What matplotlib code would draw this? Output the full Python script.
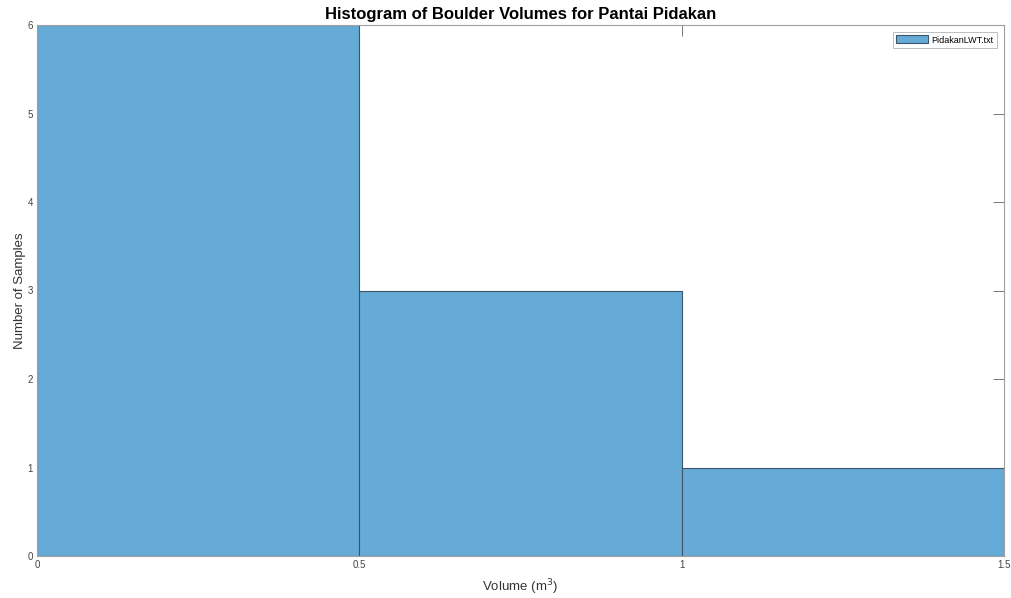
import matplotlib
matplotlib.use("Agg")
import matplotlib.pyplot as plt
import numpy as np

bin_edges = [0.0, 0.5, 1.0, 1.5]
counts = [6, 3, 1]
x_ticks = [0, 0.5, 1, 1.5]
x_tick_labels = ["0", "0.5", "1", "1.5"]
y_ticks = [0, 1, 2, 3, 4, 5, 6]

plt.rcParams['font.family'] = ['Liberation Sans', 'DejaVu Sans']

fig = plt.figure(figsize=(10.11, 5.98), dpi=100)
ax = fig.add_axes([37/1011, 42/598, (1004-37)/1011, (556-25)/598])

edges = np.array(bin_edges)
ax.bar(edges[:-1], counts, width=np.diff(edges), align='edge',
       color='#66aad7', edgecolor='#3d5566', linewidth=0.8,
       label='PidakanLWT.txt', zorder=2)

ax.set_xlim(0, 1.5)
ax.set_ylim(0, 6)
ax.set_xticks(x_ticks)
ax.set_xticklabels(x_tick_labels)
ax.set_yticks(y_ticks)

for s in ax.spines.values():
    s.set_color('#a0a0a0')
    s.set_linewidth(0.8)
    s.set_zorder(3)

ax.tick_params(direction='in', length=8, width=0.6, color='#606060',
               labelsize=7, labelcolor='#444444', top=True, right=True, pad=3)

ax.set_title('Histogram of Boulder Volumes for Pantai Pidakan',
             fontsize=12, fontweight='bold', pad=4)
ax.set_xlabel('Volume (m$^3$)', fontsize=9.5, color='#333333', labelpad=5)
ax.set_ylabel('Number of Samples', fontsize=9.5, color='#333333', labelpad=1)

leg = ax.legend(loc='upper right', fontsize=6.5, frameon=True, fancybox=False,
                handlelength=3.5, handleheight=1.0, borderpad=0.35,
                borderaxespad=0.8, handletextpad=0.4)
leg.get_frame().set_edgecolor('#a0a0a0')
leg.get_frame().set_linewidth(0.6)

fig.savefig('out.png', dpi=100)
